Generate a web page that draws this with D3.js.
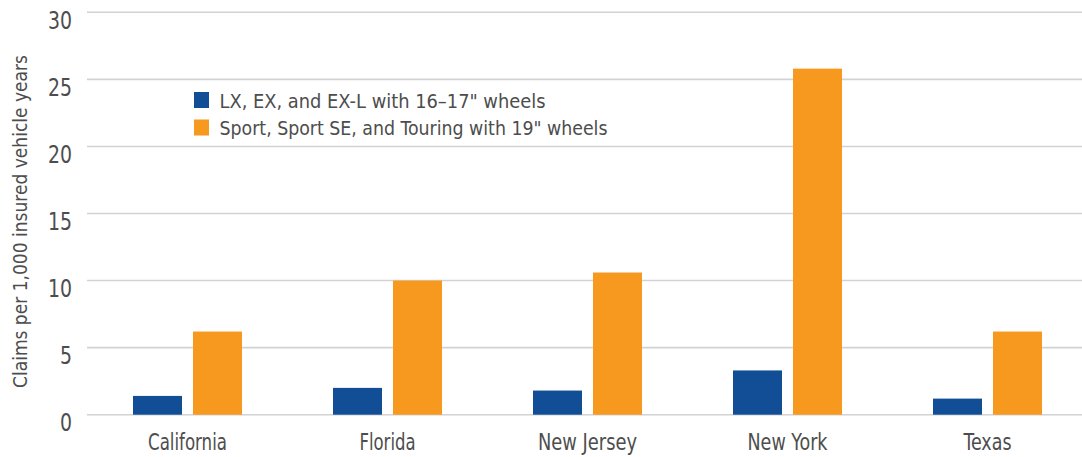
<!DOCTYPE html>
<html>
<head>
<meta charset="utf-8">
<script src="https://cdn.jsdelivr.net/npm/d3@7"></script>
<style>
  body { margin: 0; background: #fff; }
  svg { display: block; font-family: 'DejaVu Sans Condensed', 'Liberation Sans Narrow', 'Roboto', sans-serif; }
</style>
</head>
<body>
<svg width="1082" height="457"></svg>
<script>
'use strict'

const states = ['California', 'Florida', 'New Jersey', 'New York', 'Texas']
const seriesNames = ['LX, EX, and EX-L with 16–17" wheels', 'Sport, Sport SE, and Touring with 19" wheels']
const smallWheels = [1.4, 2.0, 1.8, 3.3, 1.2]
const bigWheels = [6.2, 10.0, 10.6, 25.8, 6.2]
const yTicks = [0, 5, 10, 15, 20, 25, 30]
const colors = ['#114e96', '#f7981f']
const yTitle = 'Claims per 1,000 insured vehicle years'

// widths of the texts (condensed face there)
const stateWidths = [79, 56, 99, 80, 48]
const legendWidths = [326, 388]

const textColor = '#4d4d4d'
const svg = d3.select('svg')

const x0 = d3.scaleBand()
  .domain(states)
  .range([87.5, 1087.5])
  .paddingInner(0.455)
  .paddingOuter(0.2275)

const x1 = d3.scaleBand()
  .domain([0, 1])
  .range([0, x0.bandwidth()])
  .paddingInner(11 / 60)

const y = d3.scaleLinear()
  .domain([0, 30])
  .range([414.7, 12.3])

// gridlines
svg.append('g')
  .selectAll('line')
  .data(yTicks)
  .enter().append('line')
  .attr('x1', 87)
  .attr('x2', 1082)
  .attr('y1', d => y(d))
  .attr('y2', d => y(d))
  .attr('stroke', '#d2d2d2')
  .attr('stroke-width', 1.6)

// y tick labels, they sit just under their gridline
svg.append('g')
  .selectAll('text')
  .data(yTicks)
  .enter().append('text')
  .attr('x', 72)
  .attr('y', d => y(d) + 16.5)
  .attr('text-anchor', 'end')
  .attr('font-size', 24)
  .attr('textLength', d => String(d).length * 12)
  .attr('lengthAdjust', 'spacingAndGlyphs')
  .attr('fill', textColor)
  .text(d => d)

// y title
svg.append('text')
  .attr('transform', `translate(27,${y(15) + 8}) rotate(-90)`)
  .attr('text-anchor', 'middle')
  .attr('font-size', 20)
  .attr('textLength', 333)
  .attr('lengthAdjust', 'spacingAndGlyphs')
  .attr('fill', textColor)
  .text(yTitle)

// bars
const rows = states.map((s, i) => ({ state: s, values: [smallWheels[i], bigWheels[i]] }))

const group = svg.append('g')
  .selectAll('g')
  .data(rows)
  .enter().append('g')
  .attr('transform', d => `translate(${x0(d.state)},0)`)

group.selectAll('rect')
  .data(d => d.values.map((v, k) => ({ k, v })))
  .enter().append('rect')
  .attr('x', d => x1(d.k))
  .attr('width', x1.bandwidth())
  .attr('y', d => y(d.v))
  .attr('height', d => y(0) - y(d.v))
  .attr('fill', d => colors[d.k])

// x labels
svg.append('g')
  .selectAll('text')
  .data(states)
  .enter().append('text')
  .attr('x', d => x0(d) + x0.bandwidth() / 2)
  .attr('y', 450)
  .attr('text-anchor', 'middle')
  .attr('font-size', 23)
  .attr('textLength', (d, i) => stateWidths[i])
  .attr('lengthAdjust', 'spacingAndGlyphs')
  .attr('fill', textColor)
  .text(d => d)

// legend
const legend = svg.append('g')
  .selectAll('g')
  .data(seriesNames)
  .enter().append('g')
  .attr('transform', (d, i) => `translate(194,${92 + i * 27.5})`)

legend.append('rect')
  .attr('width', 15)
  .attr('height', 16)
  .attr('fill', (d, i) => colors[i])

legend.append('text')
  .attr('x', 25.5)
  .attr('y', 15.5)
  .attr('font-size', 19)
  .attr('textLength', (d, i) => legendWidths[i])
  .attr('lengthAdjust', 'spacingAndGlyphs')
  .attr('fill', textColor)
  .text(d => d)
</script>
</body>
</html>
